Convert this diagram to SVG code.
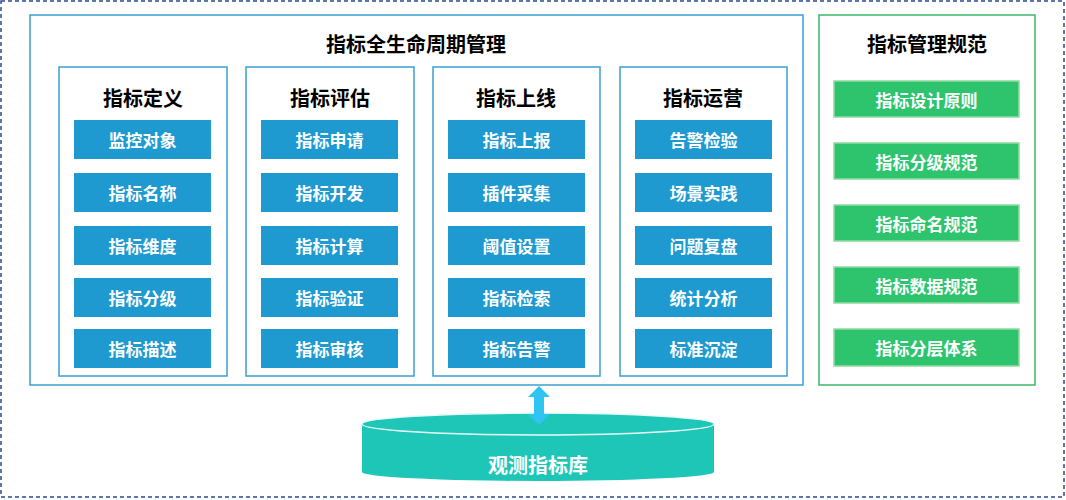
<svg xmlns="http://www.w3.org/2000/svg" width="1066" height="500" viewBox="0 0 1066 500">
<style>
.t{font-family:"Noto Sans CJK SC",sans-serif;font-weight:bold;text-anchor:middle;dominant-baseline:central}
.h{font-size:20px;fill:#000}
.i{font-size:17px;fill:#fff}
.col{fill:#fff;stroke:#3aa0d0;stroke-width:1.5}
.b{fill:#1e9ad0}
.g{fill:#2ec46e;stroke:#8fdc9f;stroke-width:1.5}
</style>
<rect x="1" y="1" width="1063" height="496" fill="#fff" stroke="#2a4a90" stroke-width="1.5" stroke-dasharray="4,3"/>
<g id="lifecycle">
<rect x="30" y="15" width="773" height="370" class="col"/>
<text x="416" y="43" class="t h">指标全生命周期管理</text>
</g>
<g id="col1"><rect x="59" y="67" width="168" height="309" class="col"/><text x="143" y="97" class="t h">指标定义</text>
<rect x="74" y="120" width="137" height="39" class="b"/><text x="142.5" y="139.5" class="t i">监控对象</text>
<rect x="74" y="173" width="137" height="39" class="b"/><text x="142.5" y="192.5" class="t i">指标名称</text>
<rect x="74" y="226" width="137" height="39" class="b"/><text x="142.5" y="245.5" class="t i">指标维度</text>
<rect x="74" y="278" width="137" height="39" class="b"/><text x="142.5" y="297.5" class="t i">指标分级</text>
<rect x="74" y="329" width="137" height="39" class="b"/><text x="142.5" y="348.5" class="t i">指标描述</text></g>
<g id="col2"><rect x="246" y="67" width="168" height="309" class="col"/><text x="330" y="97" class="t h">指标评估</text>
<rect x="261" y="120" width="137" height="39" class="b"/><text x="329.5" y="139.5" class="t i">指标申请</text>
<rect x="261" y="173" width="137" height="39" class="b"/><text x="329.5" y="192.5" class="t i">指标开发</text>
<rect x="261" y="226" width="137" height="39" class="b"/><text x="329.5" y="245.5" class="t i">指标计算</text>
<rect x="261" y="278" width="137" height="39" class="b"/><text x="329.5" y="297.5" class="t i">指标验证</text>
<rect x="261" y="329" width="137" height="39" class="b"/><text x="329.5" y="348.5" class="t i">指标审核</text></g>
<g id="col3"><rect x="433" y="67" width="167" height="309" class="col"/><text x="516" y="97" class="t h">指标上线</text>
<rect x="448" y="120" width="137" height="39" class="b"/><text x="516.5" y="139.5" class="t i">指标上报</text>
<rect x="448" y="173" width="137" height="39" class="b"/><text x="516.5" y="192.5" class="t i">插件采集</text>
<rect x="448" y="226" width="137" height="39" class="b"/><text x="516.5" y="245.5" class="t i">阈值设置</text>
<rect x="448" y="278" width="137" height="39" class="b"/><text x="516.5" y="297.5" class="t i">指标检索</text>
<rect x="448" y="329" width="137" height="39" class="b"/><text x="516.5" y="348.5" class="t i">指标告警</text></g>
<g id="col4"><rect x="620" y="67" width="167" height="309" class="col"/><text x="703" y="97" class="t h">指标运营</text>
<rect x="635" y="120" width="137" height="39" class="b"/><text x="703.5" y="139.5" class="t i">告警检验</text>
<rect x="635" y="173" width="137" height="39" class="b"/><text x="703.5" y="192.5" class="t i">场景实践</text>
<rect x="635" y="226" width="137" height="39" class="b"/><text x="703.5" y="245.5" class="t i">问题复盘</text>
<rect x="635" y="278" width="137" height="39" class="b"/><text x="703.5" y="297.5" class="t i">统计分析</text>
<rect x="635" y="329" width="137" height="39" class="b"/><text x="703.5" y="348.5" class="t i">标准沉淀</text></g>
<g id="spec"><rect x="819" y="15" width="216" height="370" fill="#fff" stroke="#3cb86a" stroke-width="1.5"/><text x="927" y="43" class="t h">指标管理规范</text>
<rect x="834" y="81" width="185" height="36" class="g"/><text x="926.5" y="99" class="t i">指标设计原则</text>
<rect x="834" y="143" width="185" height="36" class="g"/><text x="926.5" y="161" class="t i">指标分级规范</text>
<rect x="834" y="205" width="185" height="36" class="g"/><text x="926.5" y="223" class="t i">指标命名规范</text>
<rect x="834" y="267" width="185" height="36" class="g"/><text x="926.5" y="285" class="t i">指标数据规范</text>
<rect x="834" y="329" width="185" height="37" class="g"/><text x="926.5" y="347.5" class="t i">指标分层体系</text></g>
<g id="db">
<path d="M362,425 L362,472 A176,9 0 0 0 714,472 L714,425 Z" fill="#1ec6b8"/>
<ellipse cx="538" cy="424" rx="176" ry="11" fill="#1ec6b8" stroke="#e8fbf8" stroke-width="1.5"/>
<text x="538" y="464" class="t" font-size="20" fill="#fff">观测指标库</text>
</g>
<g id="connectors">
<polygon points="539,386 550,397 544,397 544,414 550,414 539,425 528,414 534,414 534,397 528,397" fill="#2fc4f2"/>
</g>
</svg>
